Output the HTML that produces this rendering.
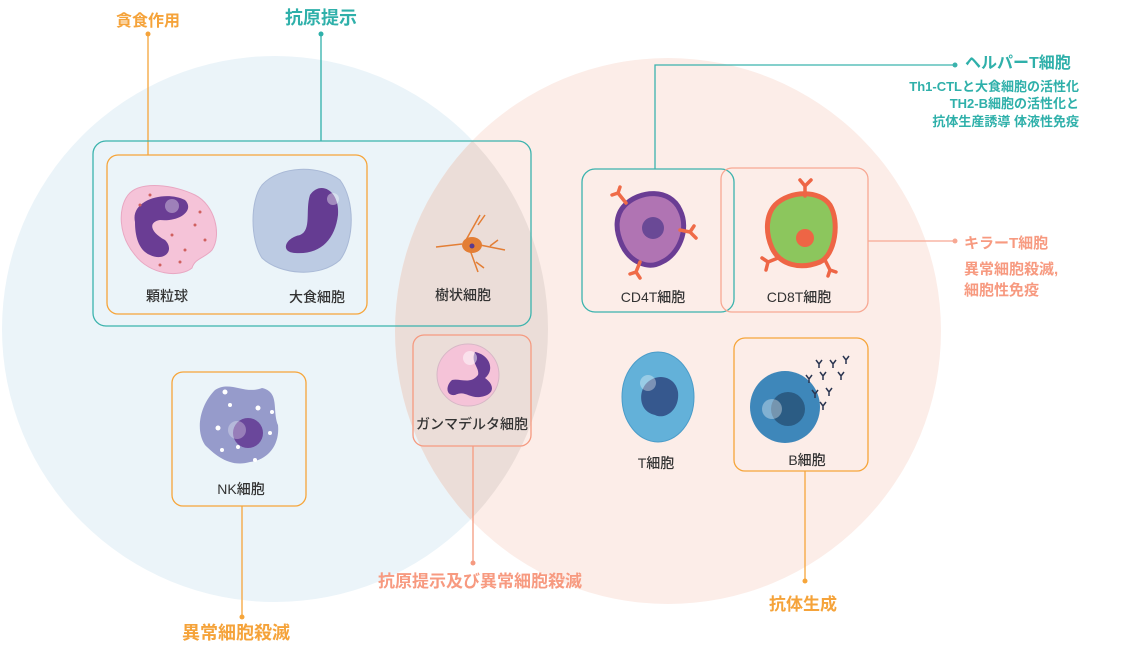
<!DOCTYPE html>
<html><head><meta charset="utf-8"><style>
html,body{margin:0;padding:0;background:#fff;}
svg{display:block;}
text{font-family:"Liberation Sans","Noto Sans CJK JP",sans-serif;}
.lb{font-size:14px;fill:#333;text-anchor:middle;font-weight:500;}
</style></head><body>
<svg width="1133" height="656" viewBox="0 0 1133 656" xmlns="http://www.w3.org/2000/svg">
<defs>
<clipPath id="cb"><circle cx="275" cy="329" r="273"/></clipPath>
</defs>
<circle cx="275" cy="329" r="273" fill="#ebf4f9"/>
<circle cx="668" cy="331" r="273" fill="#fcede8"/>
<circle cx="668" cy="331" r="273" fill="#ebddd8" clip-path="url(#cb)"/>

<!-- top labels -->
<text x="148" y="26" font-size="16" fill="#f5a33a" text-anchor="middle" font-weight="bold">貪食作用</text>
<circle cx="148" cy="34" r="2.5" fill="#f5a33a"/>
<line x1="148" y1="34" x2="148" y2="155" stroke="#f5a33a" stroke-width="1.3"/>
<text x="321" y="24" font-size="18" fill="#2fb0aa" text-anchor="middle" font-weight="bold">抗原提示</text>
<circle cx="321" cy="34" r="2.5" fill="#2fb0aa"/>
<line x1="321" y1="34" x2="321" y2="141" stroke="#2fb0aa" stroke-width="1.3"/>

<!-- boxes -->
<rect x="93" y="141" width="438" height="185" rx="13" fill="none" stroke="#3bb3ad" stroke-width="1.3"/>
<rect x="107" y="155" width="260" height="159" rx="11" fill="none" stroke="#f6a53a" stroke-width="1.3"/>
<rect x="582" y="169" width="152" height="143" rx="13" fill="none" stroke="#3bb3ad" stroke-width="1.3"/>
<rect x="721" y="168" width="147" height="144" rx="11" fill="none" stroke="#f7a893" stroke-width="1.3"/>
<rect x="172" y="372" width="134" height="134" rx="11" fill="none" stroke="#f6a53a" stroke-width="1.3"/>
<rect x="413" y="335" width="118" height="111" rx="11" fill="none" stroke="#f59a80" stroke-width="1.3"/>
<rect x="734" y="338" width="134" height="133" rx="11" fill="none" stroke="#f6a53a" stroke-width="1.3"/>

<!-- helper T -->
<polyline points="655,169 655,65 955,65" fill="none" stroke="#3bb3ad" stroke-width="1.3"/>
<circle cx="955" cy="65" r="2.5" fill="#3bb3ad"/>
<text x="965" y="68" font-size="16" fill="#2fb0aa" font-weight="bold">ヘルパーT細胞</text>
<g font-size="13" fill="#2fb0aa" font-weight="bold" text-anchor="end">
<text x="1079" y="91">Th1-CTLと大食細胞の活性化</text>
<text x="1079" y="108">TH2-B細胞の活性化と</text>
<text x="1079" y="126">抗体生産誘導 体液性免疫</text>
</g>
<!-- killer T -->
<line x1="868" y1="241" x2="955" y2="241" stroke="#f7a893" stroke-width="1.3"/>
<circle cx="955" cy="241" r="2.5" fill="#f7a893"/>
<g fill="#f79a80" font-size="15" font-weight="bold">
<text x="964" y="248">キラーT細胞</text>
<text x="964" y="274">異常細胞殺滅,</text>
<text x="964" y="295">細胞性免疫</text>
</g>
<!-- bottom lines -->
<line x1="242" y1="506" x2="242" y2="617" stroke="#f6a53a" stroke-width="1.3"/>
<circle cx="242" cy="617" r="2.5" fill="#f6a53a"/>
<text x="236" y="639" font-size="18" fill="#f5a33a" text-anchor="middle" font-weight="bold">異常細胞殺滅</text>
<line x1="473" y1="446" x2="473" y2="563" stroke="#f59a80" stroke-width="1.3"/>
<circle cx="473" cy="563" r="2.5" fill="#f59a80"/>
<text x="480" y="587" font-size="17" fill="#f79a80" text-anchor="middle" font-weight="bold">抗原提示及び異常細胞殺滅</text>
<line x1="805" y1="471" x2="805" y2="581" stroke="#f6a53a" stroke-width="1.3"/>
<circle cx="805" cy="581" r="2.5" fill="#f6a53a"/>
<text x="803" y="610" font-size="17" fill="#f5a33a" text-anchor="middle" font-weight="bold">抗体生成</text>

<!-- cells -->
<!-- granulocyte -->
<path d="M128,195 C140,180 175,185 195,195 C215,205 222,235 212,250 C205,258 195,258 192,268 C180,278 150,275 135,255 C118,235 118,208 128,195Z" fill="#f5c3d8" stroke="#e8a7c2"/>
<path d="M135,222 C130,200 165,190 185,200 C195,210 180,222 160,220 C148,222 150,232 165,240 C175,250 165,262 150,255 C138,250 135,235 135,222Z" fill="#6a3d94"/>
<circle cx="172" cy="206" r="7" fill="#fff" opacity="0.35"/>
<g fill="#d0605f"><circle cx="140" cy="205" r="1.5"/><circle cx="195" cy="225" r="1.5"/><circle cx="205" cy="240" r="1.5"/><circle cx="185" cy="250" r="1.5"/><circle cx="172" cy="235" r="1.5"/><circle cx="200" cy="212" r="1.5"/><circle cx="160" cy="265" r="1.5"/><circle cx="180" cy="262" r="1.5"/><circle cx="150" cy="195" r="1.5"/></g>
<!-- macrophage -->
<path d="M262,185 C280,165 320,165 340,180 C355,200 355,240 340,260 C320,278 280,275 262,258 C250,240 250,200 262,185Z" fill="#bccbe3" stroke="#a9b9d6"/>
<path d="M310,195 C320,180 340,190 338,215 C335,240 320,255 295,253 C280,252 285,238 300,235 C312,230 305,210 310,195Z" fill="#653c92"/>
<circle cx="333" cy="199" r="6" fill="#fff" opacity="0.4"/>
<!-- dendritic -->
<g stroke="#e37e35" stroke-width="1.5" fill="none"><path d="M436,247 L462,244 M466,240 L480,215 M478,225 L485,215 M470,250 L478,272 M476,262 L484,268 M480,245 L505,250 M490,246 L498,240"/></g>
<ellipse cx="472" cy="245" rx="10" ry="8" fill="#e37e35"/>
<circle cx="472" cy="246" r="2.5" fill="#5a3a8e"/>
<!-- CD4 -->
<path d="M625,205 C640,190 670,188 680,210 C690,230 678,255 662,262 C648,270 630,262 622,245 C615,230 615,215 625,205Z" fill="#b074b3" stroke="#6a3d94" stroke-width="5"/>
<circle cx="653" cy="228" r="11" fill="#6a4996"/>
<g stroke="#ef6b48" stroke-width="3.5" fill="none" stroke-linecap="round"><path d="M626,203 L618,193 M618,193 L612,195 M618,193 L620,187 M680,230 L690,232 L694,226 M690,232 L696,238 M640,262 L636,272 L630,274 M636,272 L640,278"/></g>
<!-- CD8 -->
<path d="M775,205 C790,190 820,190 830,205 C840,222 835,255 820,262 C800,270 780,265 772,248 C765,232 766,215 775,205Z" fill="#8cc65d" stroke="#ee6545" stroke-width="5"/>
<circle cx="805" cy="238" r="9" fill="#ee6545"/>
<g stroke="#ee6545" stroke-width="3.5" fill="none" stroke-linecap="round"><path d="M805,196 L805,186 M805,186 L800,180 M805,186 L811,180 M778,258 L768,262 L762,258 M768,262 L766,270 M825,260 L830,270 L836,272 M830,270 L828,276"/></g>
<!-- NK -->
<path d="M215,390 C230,380 245,395 262,388 C280,392 272,410 278,425 C280,445 268,460 250,462 C230,468 215,455 205,445 C195,430 200,405 215,390Z" fill="#969bcb"/>
<circle cx="248" cy="433" r="15" fill="#6a479b"/>
<circle cx="237" cy="430" r="9" fill="#fff" opacity="0.3"/>
<g fill="#fff"><circle cx="225" cy="392" r="2.5"/><circle cx="230" cy="405" r="2"/><circle cx="258" cy="408" r="2.5"/><circle cx="272" cy="412" r="2"/><circle cx="218" cy="428" r="2.5"/><circle cx="222" cy="450" r="2"/><circle cx="238" cy="447" r="2"/><circle cx="255" cy="460" r="2"/><circle cx="270" cy="433" r="2"/></g>
<!-- gamma delta -->
<circle cx="468" cy="375" r="31" fill="#f5c3d8" stroke="#d7b7c6"/>
<path d="M475,352 C490,355 495,370 485,378 C495,385 495,395 480,397 C468,398 465,390 455,395 C445,396 446,385 452,380 C460,378 470,385 478,375 C480,368 470,362 475,352Z" fill="#653c92"/>
<circle cx="470" cy="358" r="7" fill="#fff" opacity="0.5"/>
<!-- T cell -->
<ellipse cx="658" cy="397" rx="36" ry="45" fill="#63b1d9" stroke="#4a9cc9"/>
<path d="M645,385 C655,372 675,375 678,392 C680,410 665,420 655,415 C640,412 638,395 645,385Z" fill="#36588e"/>
<circle cx="648" cy="383" r="8" fill="#fff" opacity="0.35"/>
<!-- B cell -->
<ellipse cx="785" cy="407" rx="35" ry="36" fill="#3e87ba"/>
<circle cx="788" cy="409" r="17" fill="#2b5c84"/>
<circle cx="772" cy="409" r="10" fill="#fff" opacity="0.35"/>
<g stroke="#2a3550" stroke-width="1.5" fill="none"><path d="M816,360 l3,4 l3,-4 M819,364 v4 M830,360 l3,4 l3,-4 M833,364 v4 M843,356 l3,4 l3,-4 M846,360 v4 M806,375 l3,4 l3,-4 M809,379 v4 M820,372 l3,4 l3,-4 M823,376 v4 M838,372 l3,4 l3,-4 M841,376 v4 M812,390 l3,4 l3,-4 M815,394 v4 M826,388 l3,4 l3,-4 M829,392 v4 M820,402 l3,4 l3,-4 M823,406 v4"/></g>

<!-- labels -->
<text class="lb" x="167" y="301">顆粒球</text>
<text class="lb" x="317" y="302">大食細胞</text>
<text class="lb" x="463" y="300">樹状細胞</text>
<text class="lb" x="653" y="302">CD4T細胞</text>
<text class="lb" x="799" y="302">CD8T細胞</text>
<text class="lb" x="472" y="429">ガンマデルタ細胞</text>
<text class="lb" x="241" y="494">NK細胞</text>
<text class="lb" x="656" y="468">T細胞</text>
<text class="lb" x="807" y="465">B細胞</text>
</svg>
</body></html>
